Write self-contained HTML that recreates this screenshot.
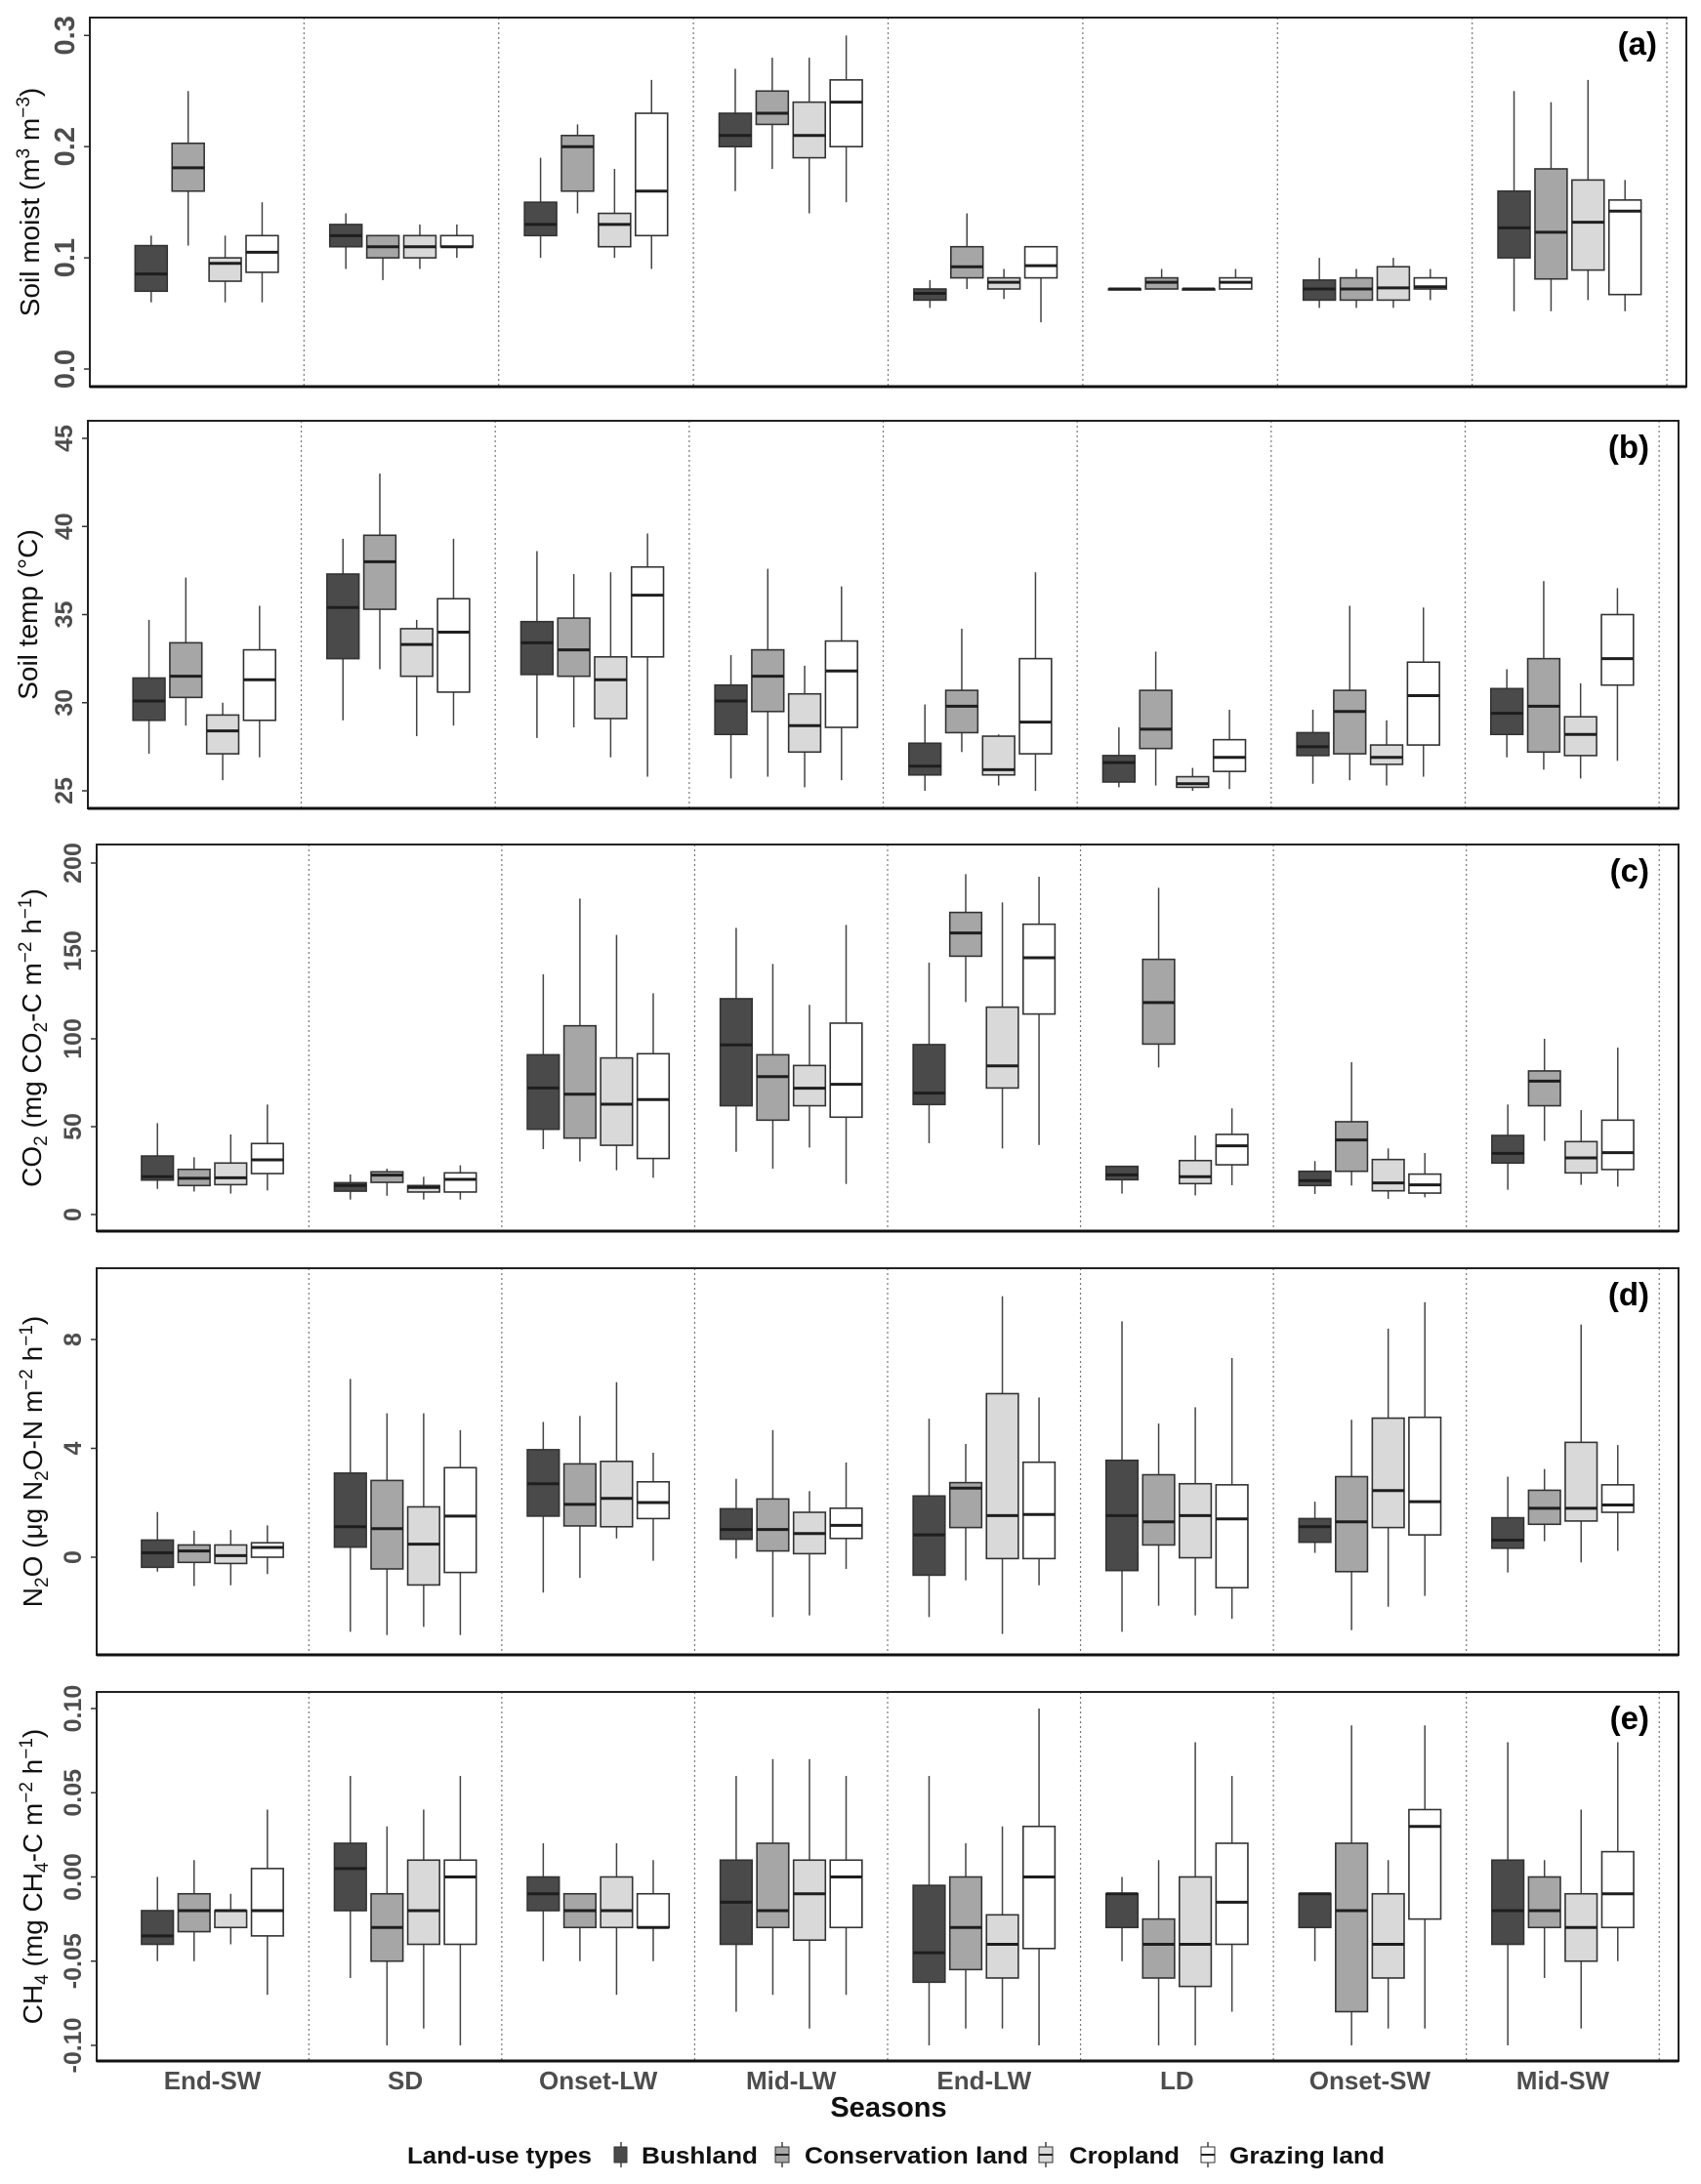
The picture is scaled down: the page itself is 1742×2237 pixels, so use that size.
<!DOCTYPE html>
<html><head><meta charset="utf-8"><style>
body{margin:0;background:#fff}
svg{display:block;font-family:"Liberation Sans",Arial,sans-serif}
</style></head><body>
<svg id="chart" width="1742" height="2237" viewBox="0 0 1742 2237" xmlns="http://www.w3.org/2000/svg">
<g id="panels"></g>
<g id="xlabels" font-weight="bold" font-size="26" fill="#4d4d4d" text-anchor="middle"></g>
<text x="910" y="2168" text-anchor="middle" font-weight="bold" font-size="29" fill="#111">Seasons</text>
<g font-weight="bold" font-size="24" fill="#111">
<text x="417" y="2216" textLength="189" lengthAdjust="spacingAndGlyphs">Land-use types</text>
<g><line x1="636" y1="2194" x2="636" y2="2220" stroke="#444" stroke-width="1.5"/><rect x="629" y="2199" width="13" height="16" fill="#4a4a4a" stroke="#333"/><text x="657" y="2216" textLength="119" lengthAdjust="spacingAndGlyphs">Bushland</text></g>
<g><line x1="801" y1="2194" x2="801" y2="2220" stroke="#444" stroke-width="1.5"/><rect x="794" y="2199" width="14" height="16" fill="#a6a6a6" stroke="#333"/><line x1="794" y1="2207" x2="808" y2="2207" stroke="#222" stroke-width="2"/><text x="824" y="2216" textLength="229" lengthAdjust="spacingAndGlyphs">Conservation land</text></g>
<g><line x1="1071" y1="2194" x2="1071" y2="2220" stroke="#444" stroke-width="1.5"/><rect x="1064" y="2199" width="14" height="16" fill="#d9d9d9" stroke="#333"/><line x1="1064" y1="2207" x2="1078" y2="2207" stroke="#222" stroke-width="2"/><text x="1095" y="2216" textLength="113" lengthAdjust="spacingAndGlyphs">Cropland</text></g>
<g><line x1="1237" y1="2194" x2="1237" y2="2220" stroke="#444" stroke-width="1.5"/><rect x="1230" y="2199" width="14" height="16" fill="#fff" stroke="#333"/><line x1="1230" y1="2207" x2="1244" y2="2207" stroke="#222" stroke-width="2"/><text x="1259" y="2216" textLength="159" lengthAdjust="spacingAndGlyphs">Grazing land</text></g>
</g>
</svg>
<script>
// categories
var seasons = ["End-SW","SD","Onset-LW","Mid-LW","End-LW","LD","Onset-SW","Mid-SW"];
var landUses = ["Bushland","Conservation land","Cropland","Grazing land"];
// each entry: [lower whisker, q1, median, q3, upper whisker]
var moistBush = [[0.06,0.07,0.0855,0.111,0.12],[0.09,0.11,0.12,0.13,0.14],[0.1,0.12,0.13,0.15,0.19],[0.16,0.2,0.21,0.23,0.27],[0.055,0.062,0.068,0.072,0.08],[0.072,0.072,0.072,0.072,0.072],[0.055,0.062,0.072,0.08,0.1],[0.052,0.1,0.127,0.16,0.25]];
var moistCons = [[0.111,0.16,0.181,0.203,0.25],[0.08,0.1,0.11,0.12,0.12],[0.14,0.16,0.2,0.21,0.22],[0.18,0.22,0.23,0.25,0.28],[0.072,0.082,0.092,0.11,0.14],[0.072,0.072,0.078,0.082,0.09],[0.055,0.062,0.072,0.082,0.09],[0.052,0.081,0.123,0.18,0.24]];
var moistCrop = [[0.06,0.079,0.095,0.1,0.12],[0.09,0.1,0.11,0.12,0.13],[0.1,0.11,0.13,0.14,0.18],[0.14,0.19,0.21,0.24,0.28],[0.063,0.072,0.078,0.082,0.09],[0.072,0.072,0.072,0.072,0.072],[0.055,0.062,0.073,0.092,0.1],[0.062,0.089,0.132,0.17,0.26]];
var moistGraz = [[0.06,0.087,0.105,0.12,0.15],[0.1,0.11,0.11,0.12,0.13],[0.09,0.12,0.16,0.23,0.26],[0.15,0.2,0.24,0.26,0.3],[0.042,0.082,0.093,0.11,0.11],[0.072,0.072,0.078,0.082,0.09],[0.062,0.072,0.074,0.082,0.09],[0.052,0.067,0.142,0.152,0.17]];
var tempBush = [[27.1,29.0,30.1,31.4,34.7],[29.0,32.5,35.4,37.3,39.3],[28.0,31.6,33.4,34.6,38.6],[25.7,28.2,30.1,31.0,32.7],[25.0,25.9,26.4,27.7,29.9],[25.2,25.5,26.6,27.0,28.6],[25.4,27.0,27.5,28.3,29.6],[26.9,28.2,29.4,30.8,31.9]];
var tempCons = [[28.7,30.3,31.5,33.4,37.1],[31.9,35.3,38.0,39.5,43.0],[28.6,31.5,33.0,34.8,37.3],[25.8,29.5,31.5,33.0,37.6],[27.2,28.3,29.8,30.7,34.2],[25.3,27.4,28.5,30.7,32.9],[25.6,27.1,29.5,30.7,35.5],[26.2,27.2,29.8,32.5,36.9]];
var tempCrop = [[25.6,27.1,28.4,29.3,30.0],[28.1,31.5,33.3,34.2,34.7],[26.9,29.1,31.3,32.6,37.4],[25.2,27.2,28.7,30.5,32.1],[25.3,25.9,26.2,28.1,28.2],[25.0,25.2,25.4,25.8,26.3],[25.3,26.5,26.9,27.6,29.0],[25.7,27.0,28.2,29.2,31.1]];
var tempGraz = [[26.9,29.0,31.3,33.0,35.5],[28.7,30.6,34.0,35.9,39.3],[25.8,32.6,36.1,37.7,39.6],[25.6,28.6,31.8,33.5,36.6],[25.0,27.1,28.9,32.5,37.4],[25.1,26.1,26.9,27.9,29.6],[25.8,27.6,30.4,32.3,35.4],[26.7,31.0,32.5,35.0,36.5]];
var co2Bush = [[14.6,19.6,21.5,33.3,52],[8.5,13.3,16.5,18.1,22.8],[37.2,48.5,72.0,90.9,136.7],[35.7,61.9,96.5,122.8,163.1],[40.6,62.6,69.1,96.7,143.3],[11.9,19.8,22.6,27.4,27.6],[11.7,16.5,19.3,24.6,30.4],[14.1,29.3,34.8,45.0,62.6]];
var co2Cons = [[13.1,16.5,20.6,25.7,32.6],[10.7,18.3,22.4,24.3,26.1],[30.2,43.5,68.5,107.4,179.8],[26.1,53.7,78.5,90.9,142.6],[120.9,147.0,160.2,171.9,193.7],[83.7,97.0,120.6,145.2,185.9],[16.5,24.6,42.4,52.8,86.7],[41.9,61.9,75.9,81.7,100]];
var co2Crop = [[11.9,17.0,20.9,29.3,45.6],[8.5,12.8,15.4,16.5,21.5],[25.2,39.4,62.8,89.1,159.1],[38.1,61.9,71.9,84.8,119.3],[37.6,72.0,84.6,118.0,177.6],[10.9,17.6,21.5,30.7,45.0],[8.9,13.5,18.0,31.3,37.6],[16.9,23.7,32.2,41.5,59.4]];
var co2Graz = [[13.7,23.3,31.1,40.4,62.6],[8.5,12.8,20.0,23.7,28.0],[20.9,31.9,65.4,91.5,125.9],[17.4,55.4,74.1,108.9,164.8],[39.6,114.1,146.1,165.2,192.2],[16.7,28.3,39.1,45.6,60.4],[9.8,12.2,16.9,23.0,35.0],[15.9,25.6,35.2,53.7,95]];
var n2oBush = [[-0.53,-0.37,0.16,0.63,1.66],[-2.74,0.37,1.12,3.09,6.55],[-1.30,1.51,2.70,3.95,4.97],[-0.05,0.66,1.02,1.78,2.88],[-2.20,-0.66,0.82,2.25,5.09],[-2.74,-0.49,1.53,3.56,8.67],[0.16,0.55,1.12,1.42,2.04],[-0.56,0.33,0.63,1.45,2.96]];
var n2oCons = [[-1.06,-0.19,0.23,0.45,0.97],[-2.86,-0.43,1.05,2.82,5.29],[-0.76,1.15,1.94,3.43,5.19],[-2.20,0.23,1.02,2.14,4.67],[-0.85,1.09,2.54,2.74,4.16],[-1.78,0.45,1.30,3.03,4.91],[-2.68,-0.53,1.30,2.96,5.05],[0.59,1.21,1.80,2.46,3.24]];
var n2oCrop = [[-1.03,-0.23,0.06,0.45,1.0],[-2.56,-1.02,0.48,1.85,5.29],[0.69,1.12,2.16,3.52,6.43],[-2.14,0.13,0.87,1.65,2.43],[-2.82,-0.05,1.53,6.01,9.59],[-2.14,-0.02,1.53,2.70,5.51],[-1.82,1.09,2.45,5.11,8.40],[-0.19,1.33,1.80,4.22,8.55]];
var n2oGraz = [[-0.62,0,0.36,0.53,1.17],[-2.86,-0.56,1.51,3.29,4.67],[-0.13,1.42,2.01,2.77,3.84],[-0.43,0.69,1.17,1.80,3.48],[-1.03,-0.05,1.57,3.49,5.87],[-2.26,-1.12,1.41,2.66,7.32],[-1.42,0.82,2.04,5.14,9.37],[0.23,1.65,1.92,2.66,4.12]];
var ch4Bush = [[-0.05,-0.04,-0.035,-0.02,0],[-0.06,-0.02,0.005,0.02,0.06],[-0.05,-0.02,-0.01,0,0.02],[-0.08,-0.04,-0.015,0.01,0.06],[-0.10,-0.0625,-0.045,-0.005,0.06],[-0.05,-0.03,-0.01,-0.01,0],[-0.05,-0.03,-0.01,-0.01,-0.01],[-0.10,-0.04,-0.02,0.01,0.08]];
var ch4Cons = [[-0.05,-0.0325,-0.02,-0.01,0.01],[-0.10,-0.05,-0.03,-0.01,0.03],[-0.05,-0.03,-0.02,-0.01,-0.01],[-0.07,-0.03,-0.02,0.02,0.07],[-0.09,-0.055,-0.03,0,0.02],[-0.10,-0.06,-0.04,-0.025,0.01],[-0.10,-0.08,-0.02,0.02,0.09],[-0.06,-0.03,-0.02,0,0.01]];
var ch4Crop = [[-0.04,-0.03,-0.02,-0.02,-0.01],[-0.09,-0.04,-0.02,0.01,0.04],[-0.07,-0.03,-0.02,0,0.02],[-0.09,-0.0375,-0.01,0.01,0.07],[-0.09,-0.06,-0.04,-0.0225,0.03],[-0.10,-0.065,-0.04,0,0.08],[-0.09,-0.06,-0.04,-0.01,0.01],[-0.09,-0.05,-0.03,-0.01,0.04]];
var ch4Graz = [[-0.07,-0.035,-0.02,0.005,0.04],[-0.10,-0.04,0,0.01,0.06],[-0.05,-0.03,-0.03,-0.01,0.01],[-0.07,-0.03,0,0.01,0.06],[-0.10,-0.0425,0,0.03,0.10],[-0.08,-0.04,-0.015,0.02,0.06],[-0.09,-0.025,0.03,0.04,0.09],[-0.05,-0.03,-0.01,0.015,0.08]];
// tick labels
var moistTicks = ["0.0","0.1","0.2","0.3"];
var tempTicks = ["25","30","35","40","45"];
var co2Ticks = ["0","50","100","150","200"];
var n2oTicks = ["0","4","8"];
var ch4Ticks = ["-0.10","-0.05","0.00","0.05","0.10"];

var fills = ["#4a4a4a","#a6a6a6","#d9d9d9","#ffffff"];
var NS = "http://www.w3.org/2000/svg";
function mk(tag, attrs, parent){var e=document.createElementNS(NS,tag);for(var k in attrs)e.setAttribute(k,attrs[k]);if(parent)parent.appendChild(e);return e;}

var panels = [
 {id:"a",series:[moistBush,moistCons,moistCrop,moistGraz],ticks:moistTicks,left:92,right:1727,top:18,bottom:396,v0:0,p0:378,v1:0.3,p1:36.3,tfs:29,
  title:[["Soil moist (m",""],["3","sup"],[" m",""],["\u22123","sup"],[")",""]],tx:40},
 {id:"b",series:[tempBush,tempCons,tempCrop,tempGraz],ticks:tempTicks,left:90,right:1719,top:431,bottom:828,v0:25,p0:810,v1:45,p1:449,tfs:25,
  title:[["Soil temp (\u00B0C)",""]],tx:38},
 {id:"c",series:[co2Bush,co2Cons,co2Crop,co2Graz],ticks:co2Ticks,left:99,right:1719,top:865,bottom:1261,v0:0,p0:1244,v1:200,p1:884,tfs:25,
  title:[["CO",""],["2","sub"],[" (mg CO",""],["2","sub"],["-C m",""],["\u22122","sup"],[" h",""],["\u22121","sup"],[")",""]],tx:42},
 {id:"d",series:[n2oBush,n2oCons,n2oCrop,n2oGraz],ticks:n2oTicks,left:99,right:1719,top:1299,bottom:1695,v0:0,p0:1595,v1:8,p1:1372,tfs:25,
  title:[["N",""],["2","sub"],["O (\u03BCg N",""],["2","sub"],["O-N m",""],["\u22122","sup"],[" h",""],["\u22121","sup"],[")",""]],tx:43},
 {id:"e",series:[ch4Bush,ch4Cons,ch4Crop,ch4Graz],ticks:ch4Ticks,left:99,right:1719,top:1733,bottom:2111,v0:0,p0:1922.5,v1:0.1,p1:1750,tfs:25,
  title:[["CH",""],["4","sub"],[" (mg CH",""],["4","sub"],["-C m",""],["\u22122","sup"],[" h",""],["\u22121","sup"],[")",""]],tx:43}
];
var root = document.getElementById("panels");
var offsets = [-0.285,-0.095,0.095,0.285];
var bw = 0.165;
panels.forEach(function(P){
  var g = mk("g",{},root);
  
  
  var xs = function(v){return P.left + (v-0.4)/(8.2)*(P.right-P.left);};
  var ys = function(v){return P.p0 + (v-P.v0)/(P.v1-P.v0)*(P.p1-P.p0);};
  for(var i=1;i<=8;i++){
    var d = mk("line",{x1:xs(i+0.5),x2:xs(i+0.5),y1:P.top,y2:P.bottom,stroke:"#777","stroke-width":1.2,"stroke-dasharray":"2,3"},g);
    
    
  }
  P.series.forEach(function(ser, li){
    ser.forEach(function(s, si){
      var cx = xs(si+1+offsets[li]);
      var half = bw/2/8.2*(P.right-P.left);
      var bg = mk("g",{},g);
      
      
      mk("line",{x1:cx,x2:cx,y1:ys(s[4]),y2:ys(s[3]),stroke:"#444","stroke-width":1.5},bg);
      mk("line",{x1:cx,x2:cx,y1:ys(s[1]),y2:ys(s[0]),stroke:"#444","stroke-width":1.5},bg);
      var yt = ys(s[3]), yb = ys(s[1]);
      mk("rect",{x:cx-half,y:Math.min(yt,yb),width:2*half,height:Math.max(1,Math.abs(yb-yt)),fill:fills[li],stroke:"#333","stroke-width":1.6},bg);
      mk("line",{x1:cx-half,x2:cx+half,y1:ys(s[2]),y2:ys(s[2]),stroke:"#1e1e1e","stroke-width":3},bg);
    });
  });
  var b = mk("rect",{x:P.left,y:P.top,width:P.right-P.left,height:P.bottom-P.top,fill:"none",stroke:"#222","stroke-width":2},g);
  
  
  mk("line",{x1:P.left,x2:P.right,y1:P.bottom,y2:P.bottom,stroke:"#111","stroke-width":3},g);
  P.ticks.forEach(function(t){
    var v = parseFloat(t), y = ys(v);
    mk("line",{x1:P.left-6,x2:P.left,y1:y,y2:y,stroke:"#333","stroke-width":1.5},g);
    var tx = P.left-16;
    var te = mk("text",{x:tx,y:y,transform:"rotate(-90 "+tx+" "+y+")","text-anchor":"middle","font-size":P.tfs,"font-weight":"bold",fill:"#4d4d4d"},g);
    
    
    te.textContent = t;
  });
  var cy = (P.top+P.bottom)/2;
  var tt = mk("text",{x:P.tx,y:cy,transform:"rotate(-90 "+P.tx+" "+cy+")","text-anchor":"middle","font-size":28,fill:"#111"},g);
  
  
  P.title.forEach(function(p){
    var ts = mk("tspan",{},tt);
    if(p[1]==="sup"){ts.setAttribute("dy","-10");ts.setAttribute("font-size","19");}
    if(p[1]==="sub"){ts.setAttribute("dy","6");ts.setAttribute("font-size","19");}
    ts.textContent = p[0];
    if(p[1]==="sup"||p[1]==="sub"){
      var back = mk("tspan",{dy:(p[1]==="sup"?"10":"-6")},tt);
      back.textContent = "\u200B";
    }
  });
  var pl = mk("text",{x:P.right-30,y:P.top+38,"text-anchor":"end","font-size":33,"font-weight":"bold",fill:"#000"},g);
  
  
  pl.textContent = "("+P.id+")";
});
var xl = document.getElementById("xlabels");
var PE = panels[4];
seasons.forEach(function(s,i){
  var x = PE.left + (i+1-0.4)/8.2*(PE.right-PE.left);
  var t = mk("text",{x:x,y:2140},xl);
  
  
  t.textContent = s;
});
</script>
</body></html>
